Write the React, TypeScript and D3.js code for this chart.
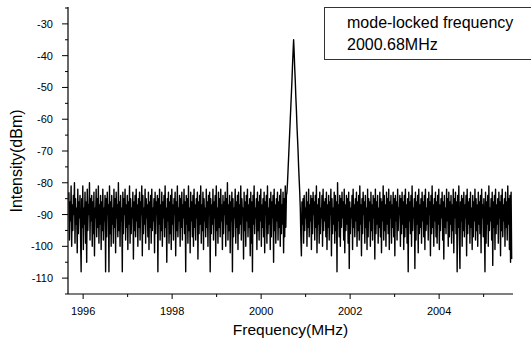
import React from "react";
import * as d3 from "d3";

// Sweep settings (MHz)
const startFreq = 1995.68;
const stepFreq = 0.0125;

// Measured intensity (dBm), one value per sweep point
const intensity: number[] = [
  -83, -98, -86, -92, -81, -100, -87, -95, -84, -90, -80, -99, -85, -93, -88, -102, -82, -96, -86, -91,
  -84, -97, -108, -85, -94, -81, -101, -88, -93, -83, -99, -86, -105, -82, -95, -87, -90, -80, -98, -85,
  -92, -84, -100, -86, -96, -83, -103, -88, -91, -82, -97, -85, -94, -81, -99, -87, -93, -84, -101, -86,
  -95, -82, -98, -88, -92, -84, -108, -85, -97, -83, -90, -87, -108, -81, -96, -86, -100, -84, -93, -88,
  -99, -82, -94, -85, -102, -83, -91, -87, -97, -80, -95, -86, -100, -84, -92, -88, -108, -83, -96, -85,
  -90, -82, -98, -87, -94, -84, -101, -86, -93, -81, -99, -85, -96, -88, -91, -83, -104, -86, -95, -84,
  -97, -82, -92, -87, -100, -85, -94, -83, -98, -86, -90, -81, -103, -84, -96, -88, -93, -82, -99, -85,
  -91, -87, -97, -83, -101, -86, -94, -84, -99, -82, -95, -88, -92, -85, -102, -83, -96, -86, -90, -84,
  -108, -85, -93, -82, -98, -87, -95, -83, -100, -86, -91, -84, -97, -81, -94, -88, -105, -85, -92, -83,
  -99, -86, -96, -84, -101, -82, -93, -87, -98, -85, -90, -83, -103, -86, -95, -81, -97, -88, -92, -84,
  -100, -85, -94, -83, -98, -87, -91, -82, -96, -86, -108, -84, -93, -85, -99, -81, -95, -88, -102, -83,
  -92, -86, -97, -84, -100, -82, -94, -87, -98, -85, -91, -83, -104, -86, -96, -84, -93, -81, -99, -87,
  -95, -83, -101, -85, -92, -88, -97, -82, -94, -86, -100, -84, -90, -83, -108, -85, -96, -87, -93, -82,
  -98, -86, -91, -84, -103, -81, -95, -88, -99, -83, -94, -85, -97, -82, -92, -87, -101, -84, -96, -86,
  -90, -83, -100, -85, -93, -80, -98, -87, -95, -84, -102, -86, -92, -83, -108, -85, -97, -88, -91, -82,
  -99, -86, -94, -84, -101, -83, -96, -87, -93, -81, -98, -85, -90, -88, -104, -83, -95, -86, -100, -84,
  -92, -82, -97, -87, -94, -85, -103, -83, -99, -86, -108, -84, -93, -81, -96, -88, -91, -85, -101, -83,
  -95, -86, -98, -84, -92, -82, -100, -87, -94, -85, -97, -83, -102, -86, -90, -84, -99, -81, -96, -88,
  -93, -85, -101, -83, -97, -86, -91, -84, -105, -82, -95, -87, -99, -85, -92, -83, -98, -86, -94, -84,
  -100, -82, -96, -87, -93, -83, -102, -85, -97, -81, -94, -84, -83, -80, -76, -72, -68, -64, -60, -56,
  -52, -48, -43, -39, -35, -39, -44, -48, -53, -57, -62, -66, -70, -75, -79, -83, -88, -97, -103, -86,
  -93, -85, -99, -84, -95, -88, -91, -83, -100, -86, -94, -82, -97, -87, -92, -84, -101, -85, -96, -83,
  -90, -86, -98, -84, -94, -81, -102, -87, -93, -85, -99, -83, -96, -88, -91, -84, -100, -82, -95, -86,
  -92, -85, -97, -83, -101, -87, -94, -84, -98, -86, -90, -82, -103, -85, -96, -88, -93, -83, -99, -84,
  -95, -86, -108, -80, -92, -87, -97, -84, -100, -85, -94, -83, -91, -86, -98, -82, -102, -87, -95, -84,
  -93, -85, -99, -83, -107, -86, -96, -88, -91, -84, -101, -82, -94, -87, -97, -85, -92, -83, -100, -86,
  -95, -84, -98, -81, -93, -87, -103, -85, -96, -83, -90, -86, -99, -84, -94, -88, -101, -82, -97, -85,
  -92, -86, -100, -83, -95, -87, -98, -84, -91, -85, -104, -82, -96, -86, -93, -84, -99, -88, -94, -83,
  -97, -85, -102, -86, -92, -81, -98, -84, -95, -87, -100, -83, -93, -85, -96, -82, -101, -86, -91, -84,
  -99, -87, -94, -83, -97, -85, -103, -84, -92, -86, -98, -82, -95, -88, -90, -84, -100, -85, -96, -83,
  -93, -86, -101, -84, -97, -82, -94, -87, -99, -85, -108, -83, -92, -86, -96, -84, -100, -81, -95, -88,
  -91, -85, -107, -83, -98, -86, -93, -84, -102, -82, -96, -87, -94, -85, -99, -83, -92, -86, -97, -84,
  -101, -82, -95, -88, -93, -85, -98, -83, -90, -86, -103, -84, -96, -81, -94, -87, -100, -85, -92, -83,
  -97, -86, -99, -84, -93, -82, -101, -87, -95, -85, -91, -83, -98, -86, -104, -84, -94, -88, -96, -82,
  -92, -85, -100, -83, -97, -86, -93, -84, -99, -87, -95, -82, -102, -85, -91, -83, -96, -86, -108, -84,
  -94, -81, -98, -107, -86, -92, -84, -100, -85, -95, -83, -97, -87, -91, -84, -103, -82, -96, -86, -93,
  -85, -99, -83, -94, -88, -101, -84, -97, -86, -92, -82, -98, -85, -95, -87, -100, -83, -93, -86, -96,
  -84, -102, -82, -91, -87, -97, -85, -94, -108, -83, -99, -86, -93, -84, -100, -81, -95, -88, -92, -85,
  -98, -83, -106, -86, -94, -84, -101, -82, -96, -87, -93, -85, -99, -83, -91, -86, -103, -84, -95, -82,
  -97, -87, -92, -85, -100, -83, -94, -86, -98, -81, -93, -85, -101, -84, -105, -83, -104,
];

const xMajorTicks = [1996, 1998, 2000, 2002, 2004];
const xMinorTicks = [1997, 1999, 2001, 2003, 2005];
const yMajorTicks = [-110, -100, -90, -80, -70, -60, -50, -40, -30];
const yMinorTicks = [-115, -105, -95, -85, -75, -65, -55, -45, -35, -25];

const xTitle = "Frequency(MHz)";
const yTitle = "Intensity(dBm)";
const noteLines = ["mode-locked frequency", "2000.68MHz"];

const FONT = "'Liberation Sans', Arial, Helvetica, sans-serif";

export default function App() {
  const W = 531;
  const H = 344;
  const x = d3.scaleLinear().domain([1995.66, 2005.66]).range([68, 513]);
  const y = d3.scaleLinear().domain([-115, -25]).range([294, 8]);

  const pts: [number, number][] = intensity.map((v, i) => [startFreq + i * stepFreq, v]);
  const line = d3
    .line<[number, number]>()
    .x((d) => x(d[0]))
    .y((d) => y(d[1]));

  const x0 = x.range()[0];
  const x1 = x.range()[1];
  const yb = y.range()[0];
  const yt = y.range()[1];

  return (
    <svg
      width={W}
      height={H}
      viewBox={`0 0 ${W} ${H}`}
      style={{ position: "absolute", left: 0, top: 0, background: "#fff" }}
      fontFamily={FONT}
    >
      <rect x={0} y={0} width={W} height={H} fill="#fff" />
      <defs>
        <clipPath id="plotclip">
          <rect x={x0} y={yt - 2} width={x1 - x0} height={yb - yt + 2} />
        </clipPath>
      </defs>

      {/* trace */}
      <path
        d={line(pts) || ""}
        fill="none"
        stroke="#000"
        strokeWidth={1.4}
        strokeLinejoin="round"
        clipPath="url(#plotclip)"
      />

      {/* axes */}
      <line x1={x0} y1={yb} x2={x1} y2={yb} stroke="#000" strokeWidth={1.2} />
      <line x1={x0} y1={yt - 1} x2={x0} y2={yb} stroke="#000" strokeWidth={1.2} />

      {xMajorTicks.map((t) => (
        <g key={"xm" + t}>
          <line x1={x(t)} y1={yb} x2={x(t)} y2={yb + 5} stroke="#000" strokeWidth={1} />
          <text x={x(t)} y={yb + 21} fontSize={11} textAnchor="middle" fill="#000">
            {t}
          </text>
        </g>
      ))}
      {xMinorTicks.map((t) => (
        <line key={"xn" + t} x1={x(t)} y1={yb} x2={x(t)} y2={yb + 3} stroke="#000" strokeWidth={1} />
      ))}

      {yMajorTicks.map((t) => (
        <g key={"ym" + t}>
          <line x1={x0 - 6} y1={y(t)} x2={x0} y2={y(t)} stroke="#000" strokeWidth={1} />
          <text x={x0 - 15} y={y(t) + 4} fontSize={11} textAnchor="end" fill="#000">
            {t}
          </text>
        </g>
      ))}
      {yMinorTicks.map((t) => (
        <line key={"yn" + t} x1={x0 - 3} y1={y(t)} x2={x0} y2={y(t)} stroke="#000" strokeWidth={1} />
      ))}

      {/* axis titles */}
      <text x={(x0 + x1) / 2} y={335} fontSize={15.5} textAnchor="middle" fill="#000">
        {xTitle}
      </text>
      <text
        transform={`translate(22, 161) rotate(-90)`}
        fontSize={16}
        textAnchor="middle"
        fill="#000"
      >
        {yTitle}
      </text>

      {/* annotation box */}
      <rect x={324.5} y={7.5} width={230} height={52} fill="none" stroke="#333" strokeWidth={1} />
      <text x={347} y={28} fontSize={16} fill="#000">
        {noteLines[0]}
      </text>
      <text x={347} y={50} fontSize={16} fill="#000">
        {noteLines[1]}
      </text>
    </svg>
  );
}
